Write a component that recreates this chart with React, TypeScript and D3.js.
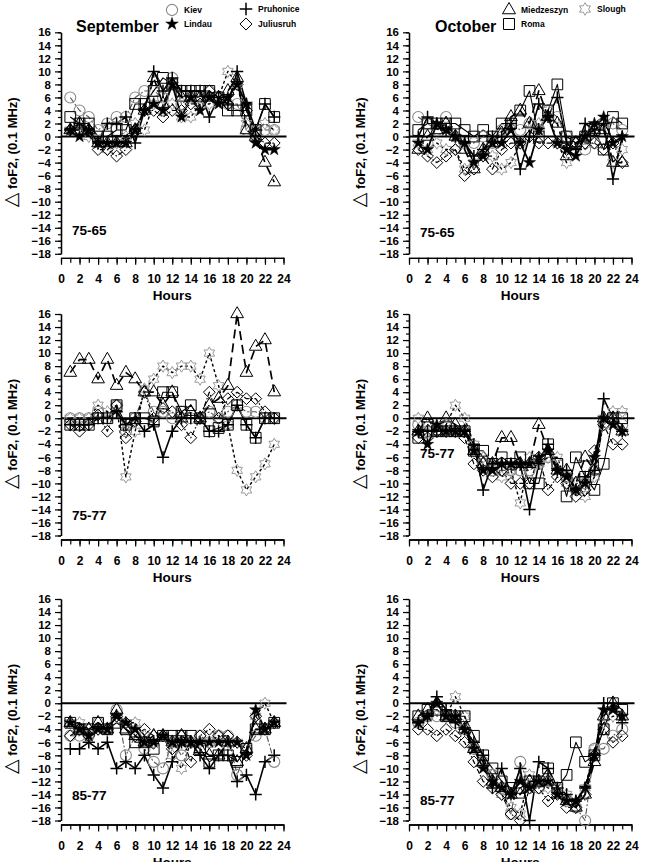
import { useEffect, useRef } from 'react';
import * as d3 from 'd3';

type Series = (number | null)[];

const hours = [1, 2, 3, 4, 5, 6, 7, 8, 9, 10, 11, 12, 13, 14, 15, 16, 17, 18, 19, 20, 21, 22, 23];
const yTickLabels = [16, 14, 12, 10, 8, 6, 4, 2, 0, -2, -4, -6, -8, -10, -12, -14, -16, -18];
const xTickLabels = [0, 2, 4, 6, 8, 10, 12, 14, 16, 18, 20, 22, 24];
const stationNames = ['Kiev', 'Lindau', 'Pruhonice', 'Juliusruh', 'Miedzeszyn', 'Slough', 'Roma'];

// September, 75-65
const kievSep7565: Series = [6, 4, 3, 1, 2, 3, 3, 6, 7, 7, 6, 9, 5, 6, 6, 7, 6, 5, 5, 1, 1, 1, 1];
const lindauSep7565: Series = [1, 0, 1, -1, -1, -1, -1, 1, 4, 5, 4, 8, 3, 6, 4, 6, 5, 6, 8, 5, -1, -2, -2];
const pruhoniceSep7565: Series = [1, 2, 1, -1, 2, 2, 3, -1, 4, 10, 7, 9, 7, 7, 7, 3, 6, 5, 10, 5, 1, 5, 3];
const juliusruhSep7565: Series = [1, 1, 1, -2, -2, -3, -2, 1, 4, 4, 3, 4, 4, 5, 5, 7, 6, 5, 8, 4, 0, -1, -1];
const miedzeszynSep7565: Series = [1, 2, 1, -1, -1, -1, -1, 1, 4, 9, 5, 8, 6, 6, 6, 6, 6, 7, 9, 1, 0, -4, -7];
const sloughSep7565: Series = [1, 1, 0, -1, -2, -1, 0, 2, 1, 5, 4, 5, 3, 3, 5, 5, 6, 10, 8, 2, 1, 2, 1];
const romaSep7565: Series = [3, 2, 2, 0, 0, 1, 1, 5, 5, 7, 9, 8, 7, 7, 7, 7, 6, 4, 4, 4, 1, 5, 3];

// October, 75-65
const kievOct7565: Series = [3, 2, 1, 3, 0, -1, -1, 0, -1, 1, 2, 1, 2, 1, 4, 3, 0, -1, -2, -1, 2, 2, 1];
const lindauOct7565: Series = [-1, -2, 2, 1, 0, -1, -4, -3, -1, -1, 1, -1, -4, 1, 3, -1, -2, -3, 0, 2, 3, -1, 0];
const pruhoniceOct7565: Series = [0, 3, 2, 1, 0, -1, -3, -2, 0, 0, 2, -5, 0, 5, 3, 6, -1, -2, 2, 1, 2, -6.5, 0];
const juliusruhOct7565: Series = [-2, -3, -4, -3, -2, -6, -5, -3, -5, -2, -1, -1, 0, -1, -1, -1, -2, -1, -1, -1, -2, -1, -4];
const miedzeszynOct7565: Series = [-2, 0, 1, 2, 0, -2, -5, -2, -1, 0.5, 3, 4, 2, 7, 3, 2, -3, -1, 0, 1, 1, -4, -4];
const sloughOct7565: Series = [-1, -2, -1, -2, -2, -5, -4, -3, -3, -5, -4, -1, 1, 2, 4, -1, -4, -1, 0, 1, 2, -4, -2];
const romaOct7565: Series = [1, 2, 2, 2, 2, 1, 0, 1, 0, 2, 2, 4, 7, 0, 4, 8, 0, -1, 0, 1, -2, 3, 2];

// September, 75-77
const kievSep7577: Series = [0, 0, 0, 1, 0, 2, -2, 0, 4, 1, 1, 0, 1, 0, 0, 1, 0, 1, 2, 1, 1, 0, 0];
const lindauSep7577: Series = [];
const pruhoniceSep7577: Series = [-1, -1, -1, 0, 0, 1, -1, 0, -2, -1, -6, -2, 0, 0, 0, -2, -2, -1, 2, -1, -3, 0, 0];
const juliusruhSep7577: Series = [-1, -2, -1, 0.5, -2, 2, -3, -0.5, 4, 0, 1.5, 1, -1, -3, 0, 4, 0, 3, 4, 3, 3, 1, 0];
const miedzeszynSep7577: Series = [7, 9, 9, 6, 9, 5, 7, 6, 4, 4, 2, 4, 0, 1, 0, 2, 3, 5, 16, 7, 11, 12, 4];
const sloughSep7577: Series = [0, 0, 0, 2, 1, 2, -9, -2, 4.5, 6, 8, 7, 8, 8, 6, 10, 5, -1, -8, -11, -9, -7, -4];
const romaSep7577: Series = [-1, -1, -1, 0, 0, 2, -1, 0, 0, -0.5, 4, 4, 1, 2, 0, -2, -1.5, -1, 2, -1, -3, 0, 0];

// October, 75-77
const kievOct7577: Series = [-1, -2, -2, -1, -2, -2, -5, -7, -8, -8, -8, -8, -8, -7, -6, -7, -9, -10, -10, -8, -1, 0, -1];
const lindauOct7577: Series = [-2, -4, -1, -2, -2, -2, -5, -8, -8, -7, -7, -7, -7, -6, -5, -8, -9, -11, -10, -6, 0, -1, -2];
const pruhoniceOct7577: Series = [-2, -2, -2, -2, -2, -2, -4, -11, -7, -7, -7, -7, -14, -7, -4, -8, -8, -11, -9, -8, 3, 0, -2];
const juliusruhOct7577: Series = [-3, -3, -2, -2, -2, -3, -7, -8, -9, -8, -10, -10, -10, -6, -11, -9, -10, -12, -11, -5, -1, -4, -4];
const miedzeszynOct7577: Series = [-2, 0, -2, 0, -1, -2, -5, -7, -7, -3, -3, -7, -7, -1, -5, -8, -8, -10, -6, -8, 0, 0, -2];
const sloughOct7577: Series = [0, -1, -2, -1, 2, 0, -4, -6, -7, -9, -8, -13, -6, -7, -6, -6, -10, -11, -12, -9, 0, 1, 1];
const romaOct7577: Series = [-3, -1, -2, -2, -2, -2, -5, -5, -7, -6, -7, -6, -10, -10, -4, -7, -12, -6, -9, -11, -7, 0, 0];

// September, 85-77
const kievSep8577: Series = [-5, -5, -5, -3, -4, -1, -8, -5, -7, -9, -10, -6, -8, -6, -5, -6, -5, -5, -11, -7, -5, -4, -9];
const lindauSep8577: Series = [-3, -4, -5, -4, -4, -2, -3, -4, -6, -6, -5, -6, -6, -6, -6, -6, -6, -6, -6, -8, -1, -4, -3];
const pruhoniceSep8577: Series = [-7, -7, -6, -7, -6, -10, -9, -10, -8, -11, -13, -9, -6, -6, -8, -10, -8, -8, -12, -11, -14, -9, -8];
const juliusruhSep8577: Series = [-5, -4, -5, -4, -4, -2, -3, -5, -4, -5, -5, -7, -5, -9, -5, -4, -5, -5, -6, -8, -2, -4, -3];
const miedzeszynSep8577: Series = [-3, -4, -4, -3, -4, -1, -4, -5, -6, -5, -5, -6, -5, -6, -7, -8, -8, -6, -9, -7, -4, -4, -3];
const sloughSep8577: Series = [-3, -3, -4, -4, -4, -2, -3, -3, -5, -6, -5, -8, -10, -6, -6, -6, -5, -6, -6, -7, -2, 0, -3];
const romaSep8577: Series = [-3, -4, -4, -3, -4, -3, -4, -6, -6, -7, -5, -5, -5, -5, -7, -9, -8, -8, -9, -7, -4, -4, -3];

// October, 85-77
const kievOct8577: Series = [-3, -2, -2, -2, -3, -4, -7, -9, -11, -13, -17, -9, -13, -13, -12, -13, -15, -16, -18, -7, -7, -5, -4];
const lindauOct8577: Series = [-3, -2, 0, -2, -2, -4, -7, -10, -12, -13, -14, -12, -13, -12, -12, -14, -15, -15, -13, -8, -1, -1, -2];
const pruhoniceOct8577: Series = [-3, -2, 1, -1, -3, -4, -6, -8, -13, -10, -14, -10, -18, -9, -10, -13, -14, -15, -13, -8, 0, 0, -3];
const juliusruhOct8577: Series = [-4, -4, -5, -4, -5, -6, -9, -12, -13, -14, -17, -18, -13, -13, -15, -14, -16, -16, -14, -8, -4, -6, -5];
const miedzeszynOct8577: Series = [-2, -1, 0, -2, -2, -4, -7, -9, -12, -13, -14, -14, -12, -12, -12, -14, -15, -16, -14, -9, -2, 0, -2];
const sloughOct8577: Series = [-3, -2, -1, -2, 1, -2, -7, -9, -11, -14, -16, -17, -11, -12, -13, -13, -14, -16, -13, -7, -3, -2, -2];
const romaOct8577: Series = [-2, -1, -1, -2, -2, -2, -5, -8, -10, -12, -13, -13, -12, -12, -10, -13, -11, -6, -9, -8, -4, 0, -1];

const FONT = "'Liberation Sans', Arial, Helvetica, sans-serif";
const PLOT_WIDTH = 222.5;
const PLOT_HEIGHT = 221.5;

// thin "+" marker
const plusSymbol: d3.SymbolType = {
  draw(context, size) {
    const r = Math.sqrt(size) / 2;
    context.moveTo(-r, 0);
    context.lineTo(r, 0);
    context.moveTo(0, -r);
    context.lineTo(0, r);
  },
};

// square diamond (same width and height)
const diamondSymbol: d3.SymbolType = {
  draw(context, size) {
    const r = Math.sqrt(size) / 2;
    context.moveTo(0, -r);
    context.lineTo(r, 0);
    context.lineTo(0, r);
    context.lineTo(-r, 0);
    context.closePath();
  },
};

// six-pointed outline star
const hexagramSymbol: d3.SymbolType = {
  draw(context, size) {
    const outer = Math.sqrt(size) / 2;
    const inner = outer * 0.58;
    for (let i = 0; i < 12; i++) {
      const a = (i * Math.PI) / 6 - Math.PI / 2;
      const r = i % 2 === 0 ? outer : inner;
      if (i === 0) context.moveTo(r * Math.cos(a), r * Math.sin(a));
      else context.lineTo(r * Math.cos(a), r * Math.sin(a));
    }
    context.closePath();
  },
};

interface StationStyle {
  symbol: d3.SymbolType;
  size: number;
  stroke: string;
  fill: string;
  markerWidth: number;
  lineColor: string;
  lineWidth: number;
  dash: string | null;
}

const stationStyles: Record<string, StationStyle> = {
  Kiev: { symbol: d3.symbolCircle, size: 95, stroke: '#8a8a8a', fill: 'none', markerWidth: 1.1, lineColor: '#555', lineWidth: 1.1, dash: '6 2 2 2' },
  Lindau: { symbol: d3.symbolStar, size: 46, stroke: '#000', fill: '#000', markerWidth: 0.5, lineColor: '#000', lineWidth: 1.8, dash: null },
  Pruhonice: { symbol: plusSymbol, size: 150, stroke: '#000', fill: 'none', markerWidth: 1.5, lineColor: '#000', lineWidth: 1.6, dash: null },
  Juliusruh: { symbol: diamondSymbol, size: 140, stroke: '#000', fill: 'none', markerWidth: 1, lineColor: '#000', lineWidth: 1.2, dash: '5 2 1.5 2' },
  Miedzeszyn: { symbol: d3.symbolTriangle, size: 70, stroke: '#000', fill: 'none', markerWidth: 1, lineColor: '#000', lineWidth: 1.7, dash: '9 5' },
  Slough: { symbol: hexagramSymbol, size: 150, stroke: '#9a9a9a', fill: 'none', markerWidth: 1, lineColor: '#000', lineWidth: 1.4, dash: '3 2.5' },
  Roma: { symbol: d3.symbolSquare, size: 115, stroke: '#000', fill: 'none', markerWidth: 1, lineColor: '#000', lineWidth: 1.1, dash: null },
};

interface PanelSpec {
  left: number;
  top: number;
  period: string;
  periodDy: number;
  series: Record<string, Series>;
}

const panels: PanelSpec[] = [
  {
    left: 61, top: 32.3, period: '75-65', periodDy: 198,
    series: { Kiev: kievSep7565, Lindau: lindauSep7565, Pruhonice: pruhoniceSep7565, Juliusruh: juliusruhSep7565, Miedzeszyn: miedzeszynSep7565, Slough: sloughSep7565, Roma: romaSep7565 },
  },
  {
    left: 409, top: 32.3, period: '75-65', periodDy: 200,
    series: { Kiev: kievOct7565, Lindau: lindauOct7565, Pruhonice: pruhoniceOct7565, Juliusruh: juliusruhOct7565, Miedzeszyn: miedzeszynOct7565, Slough: sloughOct7565, Roma: romaOct7565 },
  },
  {
    left: 61, top: 314, period: '75-77', periodDy: 201,
    series: { Kiev: kievSep7577, Lindau: lindauSep7577, Pruhonice: pruhoniceSep7577, Juliusruh: juliusruhSep7577, Miedzeszyn: miedzeszynSep7577, Slough: sloughSep7577, Roma: romaSep7577 },
  },
  {
    left: 409, top: 314, period: '75-77', periodDy: 139,
    series: { Kiev: kievOct7577, Lindau: lindauOct7577, Pruhonice: pruhoniceOct7577, Juliusruh: juliusruhOct7577, Miedzeszyn: miedzeszynOct7577, Slough: sloughOct7577, Roma: romaOct7577 },
  },
  {
    left: 61, top: 599, period: '85-77', periodDy: 196,
    series: { Kiev: kievSep8577, Lindau: lindauSep8577, Pruhonice: pruhoniceSep8577, Juliusruh: juliusruhSep8577, Miedzeszyn: miedzeszynSep8577, Slough: sloughSep8577, Roma: romaSep8577 },
  },
  {
    left: 409, top: 599, period: '85-77', periodDy: 201,
    series: { Kiev: kievOct8577, Lindau: lindauOct8577, Pruhonice: pruhoniceOct8577, Juliusruh: juliusruhOct8577, Miedzeszyn: miedzeszynOct8577, Slough: sloughOct8577, Roma: romaOct8577 },
  },
];

// grey markers go underneath the black ones
const markerOrder = ['Slough', 'Kiev', 'Juliusruh', 'Roma', 'Miedzeszyn', 'Pruhonice', 'Lindau'];

function Panel({ spec }: { spec: PanelSpec }) {
  const gRef = useRef<SVGGElement>(null);

  useEffect(() => {
    if (!gRef.current) return;
    const g = d3.select(gRef.current);
    g.selectAll('*').remove();

    const x = d3.scaleLinear().domain([0, 24]).range([spec.left, spec.left + PLOT_WIDTH]);
    const y = d3.scaleLinear().domain([-18, 16]).range([spec.top + PLOT_HEIGHT, spec.top]);
    const plotBottom = y(-18);
    const axisY = plotBottom + 4;

    const styleAxis = (group: d3.Selection<SVGGElement, unknown, null, undefined>) => {
      group.attr('font-family', FONT).attr('font-weight', 'bold');
      group.select('.domain').attr('stroke', '#000').attr('stroke-width', 1.3);
      group.selectAll('.tick line').attr('stroke', '#000').attr('stroke-width', 1.2);
      group.selectAll('.tick text').attr('fill', '#000');
    };

    // y axis: minor ticks every unit, labels every two
    g.append('g')
      .attr('transform', `translate(${spec.left},0)`)
      .call(d3.axisLeft(y).tickValues(d3.range(-18, 17)).tickSize(3).tickSizeOuter(0).tickFormat(() => ''))
      .call(styleAxis);
    g.append('g')
      .attr('transform', `translate(${spec.left},0)`)
      .call(d3.axisLeft(y).tickValues(yTickLabels).tickSize(6).tickSizeOuter(0).tickPadding(4).tickFormat(d3.format('d')))
      .call(styleAxis)
      .call((group) => group.selectAll('.tick text').attr('font-size', 11.5));

    // x axis sits just below the plot bottom
    g.append('g')
      .attr('transform', `translate(0,${axisY})`)
      .call(d3.axisBottom(x).tickValues(d3.range(0, 25)).tickSize(5).tickSizeOuter(0).tickFormat(() => ''))
      .call(styleAxis);
    g.append('g')
      .attr('transform', `translate(0,${axisY})`)
      .call(d3.axisBottom(x).tickValues(xTickLabels).tickSize(7).tickSizeOuter(0).tickPadding(10).tickFormat(d3.format('d')))
      .call(styleAxis)
      .call((group) => group.selectAll('.tick text').attr('font-size', 12));

    g.append('text')
      .attr('x', x(12))
      .attr('y', plotBottom + 46)
      .attr('text-anchor', 'middle')
      .attr('font-family', FONT)
      .attr('font-weight', 'bold')
      .attr('font-size', 13.5)
      .text('Hours');

    const yLabel = g
      .append('text')
      .attr('transform', `translate(${spec.left - 44},${spec.top + 120}) rotate(-90)`)
      .attr('text-anchor', 'middle')
      .attr('fill', '#000')
      .attr('font-family', FONT)
      .attr('font-weight', 'bold')
      .attr('font-size', 13);
    yLabel
      .append('tspan')
      .attr('font-family', "'DejaVu Sans', sans-serif")
      .attr('font-size', 19)
      .attr('font-weight', 'normal')
      .attr('fill', '#000')
      .text('△');
    yLabel.append('tspan').text(' foF2, (0.1 MHz)');

    // zero reference line
    g.append('line')
      .attr('x1', x(0))
      .attr('x2', x(24) + 3)
      .attr('y1', y(0))
      .attr('y2', y(0))
      .attr('stroke', '#000')
      .attr('stroke-width', 2);

    g.append('text')
      .attr('x', spec.left + 11)
      .attr('y', spec.top + spec.periodDy + 5)
      .attr('font-family', FONT)
      .attr('font-weight', 'bold')
      .attr('font-size', 13.5)
      .text(spec.period);

    const line = d3
      .line<[number, number | null]>()
      .defined((d) => d[1] !== null)
      .x((d) => x(d[0]))
      .y((d) => y(d[1] as number));

    const pointsOf = (name: string) =>
      (spec.series[name] ?? []).map((v, i) => [hours[i], v] as [number, number | null]);

    stationNames.forEach((name) => {
      const st = stationStyles[name];
      const pts = pointsOf(name);
      if (pts.length === 0) return;
      g.append('path')
        .datum(pts)
        .attr('fill', 'none')
        .attr('stroke', st.lineColor)
        .attr('stroke-width', st.lineWidth)
        .attr('stroke-dasharray', st.dash)
        .attr('stroke-linejoin', 'round')
        .attr('d', line);
    });

    markerOrder.forEach((name) => {
      const st = stationStyles[name];
      const pts = pointsOf(name).filter((d) => d[1] !== null);
      g.append('g')
        .selectAll('path')
        .data(pts)
        .join('path')
        .attr('transform', (d) => `translate(${x(d[0])},${y(d[1] as number)})`)
        .attr('d', d3.symbol(st.symbol, st.size)())
        .attr('fill', st.fill)
        .attr('stroke', st.stroke)
        .attr('stroke-width', st.markerWidth);
    });
  }, [spec]);

  return <g ref={gRef} />;
}

function LegendItem({ name, x, y }: { name: string; x: number; y: number }) {
  const st = stationStyles[name];
  return (
    <g>
      <path
        transform={`translate(${x},${y})`}
        d={d3.symbol(st.symbol, st.size * 1.05)() ?? ''}
        fill={st.fill}
        stroke={st.stroke}
        strokeWidth={st.markerWidth}
      />
      <text x={x + 12} y={y + 3} fontFamily={FONT} fontWeight="bold" fontSize={8.5}>
        {name}
      </text>
    </g>
  );
}

export default function App() {
  return (
    <svg
      width={646}
      height={862}
      viewBox="0 0 646 862"
      style={{ position: 'absolute', left: 0, top: 0, background: '#fff' }}
    >
      <rect width={646} height={862} fill="#fff" />
      <text x={76} y={31.5} fontFamily={FONT} fontWeight="bold" fontSize={16}>
        September
      </text>
      <text x={435} y={31.5} fontFamily={FONT} fontWeight="bold" fontSize={16}>
        October
      </text>
      <LegendItem name="Kiev" x={172} y={10} />
      <LegendItem name="Lindau" x={172} y={24} />
      <LegendItem name="Pruhonice" x={246} y={9} />
      <LegendItem name="Juliusruh" x={246} y={24} />
      <LegendItem name="Miedzeszyn" x={509} y={10} />
      <LegendItem name="Roma" x={509} y={24} />
      <LegendItem name="Slough" x={585} y={9} />
      {panels.map((spec, i) => (
        <Panel key={i} spec={spec} />
      ))}
    </svg>
  );
}
